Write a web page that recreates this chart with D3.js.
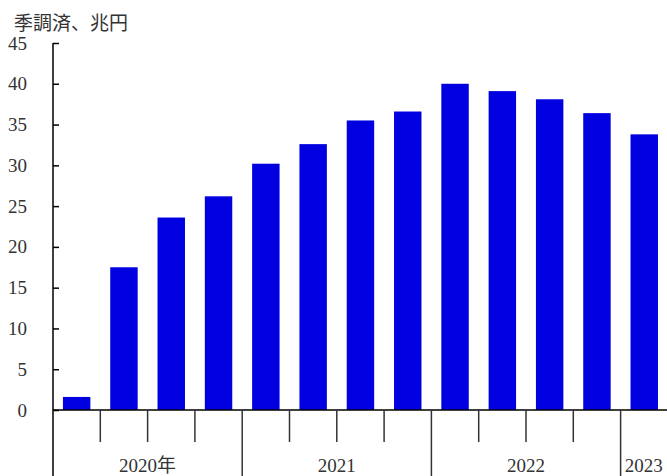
<!DOCTYPE html>
<html>
<head>
<meta charset="utf-8">
<script src="https://cdn.jsdelivr.net/npm/d3@7"></script>
<style>
  body { margin: 0; background: #fff; }
  text { fill: #333; }
</style>
</head>
<body>
<div id="chart"></div>
<script>
/* DATA */
const quarters = ["2020Q1", "2020Q2", "2020Q3", "2020Q4",
  "2021Q1", "2021Q2", "2021Q3", "2021Q4",
  "2022Q1", "2022Q2", "2022Q3", "2022Q4",
  "2023Q1"];
const values = [1.6, 17.5, 23.6, 26.2, 30.2, 32.6, 35.5, 36.6, 40.0, 39.1, 38.1, 36.4, 33.8];
const yearLabels = ["2020年", "2021", "2022", "2023"];
const yearCounts = [4, 4, 4, 1];
const yTicks = [0, 5, 10, 15, 20, 25, 30, 35, 40, 45];
const unitLabel = "季調済、兆円";

/* CONSTANTS */
const width = 667,
  height = 476,
  margin = { top: 43, left: 53, bottom: 66 },
  bandW = 47.3;

const font = "'Liberation Serif', 'Noto Sans CJK JP', serif";

const svg = d3.select("#chart")
  .append("svg")
  .attr("width", width)
  .attr("height", height);

// scales
const xScale = d3.scaleBand()
  .domain(quarters)
  .range([margin.left, margin.left + bandW * quarters.length])
  .paddingInner(0.42)
  .paddingOuter(0.21);

const yScale = d3.scaleLinear()
  .domain([0, 45])
  .range([height - margin.bottom, margin.top]);

const y0 = yScale(0);

// bars
svg.selectAll("rect.bar")
  .data(values)
  .join("rect")
  .attr("class", "bar")
  .attr("x", (d, i) => xScale(quarters[i]))
  .attr("y", d => yScale(d))
  .attr("width", xScale.bandwidth())
  .attr("height", d => y0 - yScale(d))
  .attr("fill", "#0000e1");

// y axis
const yAxis = d3.axisLeft(yScale)
  .tickValues(yTicks)
  .tickSizeInner(-6)
  .tickSizeOuter(0)
  .tickPadding(26);

const gy = svg.append("g")
  .attr("transform", `translate(${margin.left},0)`)
  .call(yAxis);
gy.select(".domain").remove();
gy.selectAll(".tick line").attr("stroke", "#000").attr("stroke-width", 1.5);
gy.selectAll(".tick text")
  .attr("font-family", font)
  .attr("font-size", 19)
  .attr("fill", "#333");

svg.append("line")
  .attr("x1", margin.left).attr("x2", margin.left)
  .attr("y1", yScale(45)).attr("y2", height)
  .attr("stroke", "#000").attr("stroke-width", 1.5);

// x axis line
svg.append("line")
  .attr("x1", margin.left).attr("x2", width)
  .attr("y1", y0).attr("y2", y0)
  .attr("stroke", "#000").attr("stroke-width", 1.5);

// quarter separators, year boundaries longer
const step = xScale.step();
const x0 = xScale.range()[0];
const yearStarts = d3.cumsum(yearCounts);
const seps = d3.range(1, quarters.length);
svg.selectAll("line.sep")
  .data(seps)
  .join("line")
  .attr("class", "sep")
  .attr("x1", i => x0 + i * step)
  .attr("x2", i => x0 + i * step)
  .attr("y1", y0)
  .attr("y2", i => yearStarts.includes(i) ? height : y0 + 32)
  .attr("stroke", "#333")
  .attr("stroke-width", 1.5);

// year labels
const starts = [0, ...yearStarts];
svg.selectAll("text.year")
  .data(yearLabels)
  .join("text")
  .attr("class", "year")
  .attr("x", (d, i) => {
    const a = x0 + starts[i] * step;
    const b = Math.min(x0 + starts[i + 1] * step, width);
    return (a + b) / 2;
  })
  .attr("y", 472)
  .attr("text-anchor", "middle")
  .attr("font-family", font)
  .attr("font-size", 19)
  .text(d => d);

// unit label
svg.append("text")
  .attr("x", 14)
  .attr("y", 30)
  .attr("font-family", "'Noto Sans CJK JP', sans-serif")
  .attr("font-size", 19)
  .text(unitLabel);
</script>
</body>
</html>
